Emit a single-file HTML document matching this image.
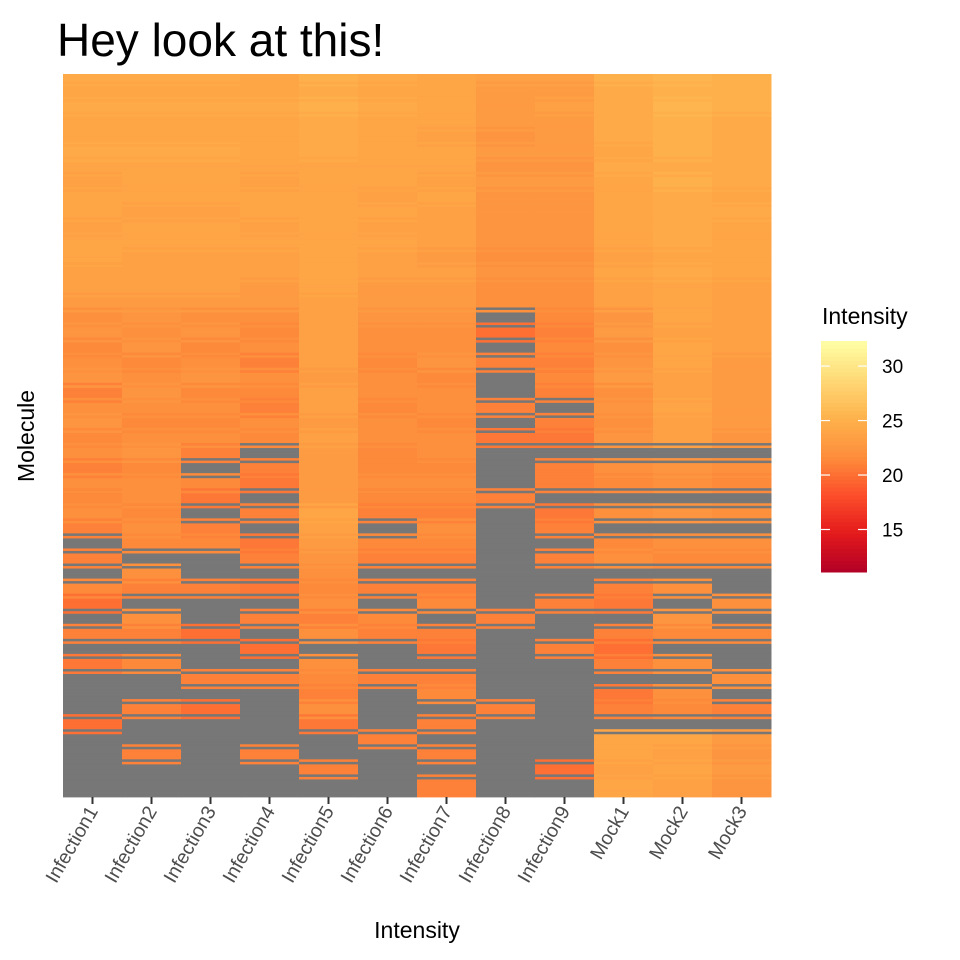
<!DOCTYPE html>
<html><head><meta charset="utf-8"><style>
html,body{margin:0;padding:0;background:#fff;}
svg{display:block;font-family:"Liberation Sans",Arial,sans-serif;}
</style></head><body>
<svg id="chart" width="960" height="960" xmlns="http://www.w3.org/2000/svg">
<rect width="960" height="960" fill="#fff"/>
<text x="57" y="56" font-size="46" fill="#000">Hey look at this!</text>
<text transform="translate(34,436) rotate(-90)" text-anchor="middle" font-size="23" fill="#000">Molecule</text>
<text x="417" y="938" text-anchor="middle" font-size="23" fill="#000">Intensity</text>
<g id="cells"></g>
<g id="xaxis"></g>
<g id="legend">
<text x="822" y="324" font-size="23" fill="#000">Intensity</text>
</g>
</svg>
<script>
const N = null;
const categories = ["Infection1","Infection2","Infection3","Infection4","Infection5","Infection6","Infection7","Infection8","Infection9","Mock1","Mock2","Mock3"];
const infection1 = [24.5,24,24.5,24,24,24.5,24,23.5,24,24,23.5,24,24,23.5,23.5,23, 22,22.5,21.5,22,22.5,21,22,22.5,21.5,22,21,22,21.5,22,21, N,21,N,21.5,20,N,21,N,20.5,N, N,N,20,N,N,N,N];
const infection2 = [24.5,24,24.5,24,24,24.5,24,24,24,23.5,24,24,23.5,23.5,23.5,23, 22.5,22,22.5,21.5,22,22.5,22,21.5,22,22.5,21.5,22,22,21.5,22,21.5, N,22,21,N,22,21, N,21.5,N,N,21,N,N,21,N,N];
const infection3 = [24.5,24,24.5,24,24,24.5,24,24,24,23.5,24,24,23.5,23.5,23.5,23, 22,22.5,21.5,22,22.5,21.5,22,21.5,22, 21,N,21.5,20.5,N,21,21.5, N,N,21,N,N,20,N,N,21,N,20,N, N,N,N,N];
const infection4 = [24,24,24.5,24,24,24,24,23.5,24,24,23.5,24,23.5,23.5,23,23, 22,21.5,22,21,22,21.5,21,22,21.5, N,21,20.5,N,21,N,20.5,21, N,20.5,N,21,N,20,N,21, N,N,N,N,21,N,N];
const infection5 = [25,24.5,25,24.5,24.5,24.5,24,24,24,24,24,24,24,24,24,23.5,23.5,23.5,23.5,23.5,23,23.5,23.5,23,23.5,23, 23,23,23,24,23.5,23,22.5, 22,21.5,22,21,22,N,22,21.5,21,22,20.5, N,N,21,N];
const infection6 = [24.5,24,24.5,24,24,24,24,24,23.5,24,23.5,24,23.5,23.5,23,23, 22.5,22,22,21.5,22,22,21.5,22,22,21.5,21.5,22,21.5, 21,N,21.5,21,N,21,N,21.5,21, N,N,21,N,N,N,21,N,N,N];
const infection7 = [24,24,24,24,23.5,24,24,23.5,24,23.5,23.5,23.5,23,23.5,23,23, 22.5,22,22,22.5,21.5,22,22,21.5,22,22,21.5,22,21.5,21,22,21.5,21, N,21,21.5,N,21,20.5,N,21,21.5,N,21, N,21,N,21];
const infection8 = [23.5,23,23,23,22.5,23,22.5,23,22.5,22.5,22.5,22.5,22,22.5,22,22, N,20,N,21,N,N,21,N,20.5,N, N,N,21,N,N,N,N, N,N,N,21,N,N,N,N,N,21,N,N,N,N,N];
const infection9 = [23.5,23,23.5,23,23,23,22.5,23,22.5,22.5,22.5,22.5,22,22.5,22,22, 21.5,21,21.5,21,21.5,21, N,21,20.5,N,21,21,N,20.5,21,N,21, N,N,21,N,N,21,N,N, N,N,N,N,N,20,N];
const mock1 = [25,24.5,24.5,24.5,24.5,24,24.5,24,24,24,24,24,23.5,24,23.5,23.5, 22.5,23,22,22.5,23,22,22.5,22,22.5, N,22,21.5,N,22,N,21.5,22,N, 21,20.5,N,21,20,21,N,20.5,21,N, 24,24,23.5,24];
const mock2 = [25.5,25,25.5,25,25,25,24.5,25,24.5,24.5,24.5,24.5,24,24.5,24,24,24,23.5,24,24,23.5,23.5,24,23.5,23.5, N,22.5,22,N,22.5,N,22,21.5,N, 22,N,22.5,21.5,N,22,N,22,21.5,N, 24,23.5,24,23.5];
const mock3 = [25,25,25,24.5,24.5,24.5,24.5,24.5,24,24.5,24,24,24,24,23.5,23.5,23.5,23.5,23.5,23,23,23,23,23,22.5, N,22,21.5,N,22,N,22,21.5,N, N,22,N,21.5,N,N,22,N,21,N, 23,22.5,23,22.5];
const seriesValues = [infection1,infection2,infection3,infection4,infection5,infection6,infection7,infection8,infection9,mock1,mock2,mock3];
const legendTicks = [15,20,25,30];

const NS = "http://www.w3.org/2000/svg";
const plotL = 63, plotR = 771, plotT = 74, plotB = 797;
const vmin = 11.1, vmax = 32.3;
const pal = ["#B10026","#E31A1C","#FC4E2A","#FD8D3C","#FEB24C","#FED976","#FFFFA6"];
function hex(c){return [parseInt(c.slice(1,3),16),parseInt(c.slice(3,5),16),parseInt(c.slice(5,7),16)];}
function colorOf(v){
  if (v === null) return "#777777";
  let t = Math.max(0, Math.min(1, (v - vmin) / (vmax - vmin))) * (pal.length - 1);
  let i = Math.min(pal.length - 2, Math.floor(t)), f = t - i;
  const a = hex(pal[i]), b = hex(pal[i+1]);
  return "rgb(" + a.map((x,k)=>Math.round(x + (b[k]-x)*f)).join(",") + ")";
}
const colW = (plotR - plotL) / categories.length;
function xScale(i){ return plotL + i * colW; }
function yScale(r, n){ return plotT + r * (plotB - plotT) / n; }

const cells = document.getElementById("cells");
const SUB = 6;
seriesValues.forEach((col, ci) => {
  const n = col.length;
  col.forEach((v, ri) => {
    const g = document.createElementNS(NS, "g");
    
    
    const y0 = yScale(ri, n), y1 = yScale(ri + 1, n), h = (y1 - y0) / SUB;
    const next = col[Math.min(n - 1, ri + 1)];
    for (let k = 0; k < SUB; k++) {
      const r = document.createElementNS(NS, "rect");
      r.setAttribute("x", xScale(ci));
      r.setAttribute("y", y0 + k * h);
      r.setAttribute("width", colW + 0.5);
      r.setAttribute("height", h + 0.4);
      r.setAttribute("fill", colorOf(k % 2 === 0 || k < 2 ? v : next));
      g.appendChild(r);
    }
    cells.appendChild(g);
  });
});

const xaxis = document.getElementById("xaxis");
categories.forEach((c, i) => {
  const cx = xScale(i) + colW / 2;
  const tk = document.createElementNS(NS, "line");
  tk.setAttribute("x1", cx); tk.setAttribute("x2", cx);
  tk.setAttribute("y1", plotB); tk.setAttribute("y2", plotB + 7);
  tk.setAttribute("stroke", "#333"); tk.setAttribute("stroke-width", "2");
  
  
  xaxis.appendChild(tk);
  const t = document.createElementNS(NS, "text");
  t.setAttribute("transform", "translate(" + (cx + 6) + "," + (plotB + 14) + ") rotate(-60)");
  t.setAttribute("text-anchor", "end");
  t.setAttribute("font-size", "19.5");
  t.setAttribute("fill", "#4D4D4D");
  t.textContent = c;
  
  
  xaxis.appendChild(t);
});

const legend = document.getElementById("legend");
const lgL = 821, lgW = 46, lgT = 341, lgB = 572;
function lgY(v){ return lgB - (v - vmin) / (vmax - vmin) * (lgB - lgT); }
const steps = 60;
for (let s = 0; s < steps; s++) {
  const v0 = vmin + (vmax - vmin) * s / steps;
  const r = document.createElementNS(NS, "rect");
  const yTop = lgY(vmin + (vmax - vmin) * (s + 1) / steps);
  r.setAttribute("x", lgL); r.setAttribute("y", yTop);
  r.setAttribute("width", lgW); r.setAttribute("height", lgY(v0) - yTop + 0.5);
  r.setAttribute("fill", colorOf(v0 + (vmax - vmin) / steps / 2));
  
  
  legend.appendChild(r);
}
legendTicks.forEach(v => {
  const y = lgY(v);
  [[lgL, lgL + 9], [lgL + lgW - 9, lgL + lgW]].forEach(p => {
    const l = document.createElementNS(NS, "line");
    l.setAttribute("x1", p[0]); l.setAttribute("x2", p[1]);
    l.setAttribute("y1", y); l.setAttribute("y2", y);
    l.setAttribute("stroke", "#fff"); l.setAttribute("stroke-width", "1.2");
    
    
    legend.appendChild(l);
  });
  const t = document.createElementNS(NS, "text");
  t.setAttribute("x", 882); t.setAttribute("y", y + 7);
  t.setAttribute("font-size", "19"); t.setAttribute("fill", "#000");
  t.textContent = v;
  
  
  legend.appendChild(t);
});
</script>
</body></html>
